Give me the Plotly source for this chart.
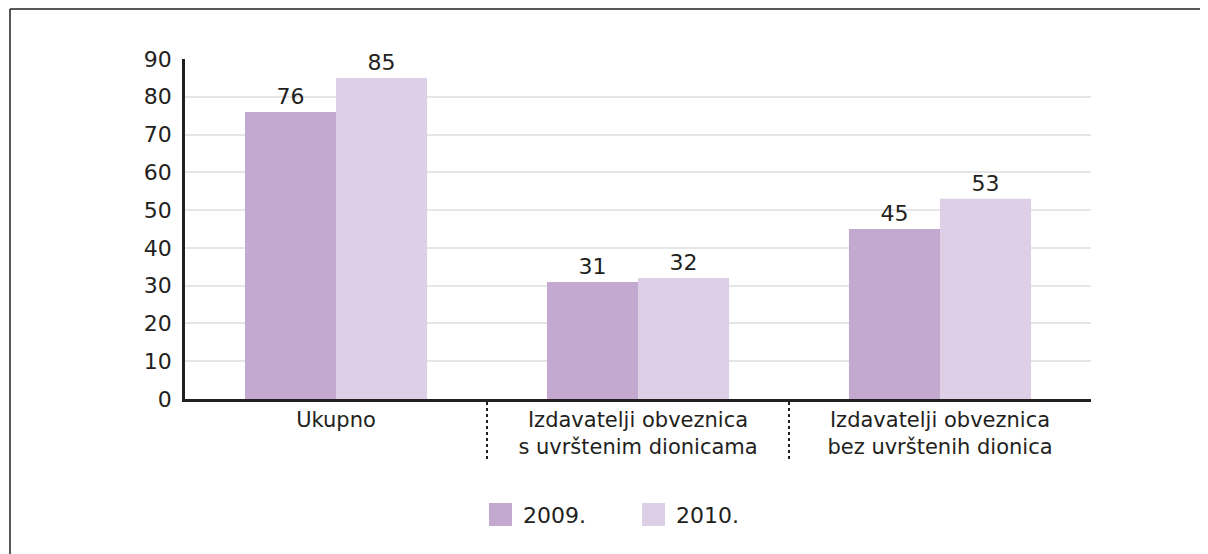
import plotly.graph_objects as go

categories = ["Ukupno", "Izdavatelji obveznica<br>s uvrštenim dionicama", "Izdavatelji obveznica<br>bez uvrštenih dionica"]
series_names = ["2009.", "2010."]
values_2009 = [76, 31, 45]
values_2010 = [85, 32, 53]
y_ticks = [0, 10, 20, 30, 40, 50, 60, 70, 80, 90]
colors = ["#c3a8d0", "#dccfe6"]

FONT = "DejaVu Sans"
TXT = "#231f20"
OFF = 8  # page body margin
W, H = 1200, 546
L, R, T, B = 185 - OFF, 117, 59 - OFF, 155
pw, ph = W - L - R, H - T - B

def px(xp):
    return (xp - OFF - L) / pw

def py(yp):
    return (H - B - (yp - OFF)) / ph

fig = go.Figure()
for name, vals, col in [(series_names[0], values_2009, colors[0]), (series_names[1], values_2010, colors[1])]:
    fig.add_trace(go.Bar(
        x=list(range(len(categories))), y=vals, name=name, marker=dict(color=col, line=dict(width=0)),
        text=[str(v) for v in vals], textposition="outside", cliponaxis=False,
        textfont=dict(family=FONT, size=22, color=TXT), showlegend=False,
    ))

shapes = []
annotations = []
# separators between categories
for i in range(len(categories) - 1):
    shapes.append(dict(type="line", xref="x", yref="paper", x0=i + 0.5, x1=i + 0.5,
                       y0=py(402), y1=py(462), line=dict(color=TXT, width=2, dash="dot")))
# frame (top and left)
shapes.append(dict(type="line", xref="paper", yref="paper", x0=px(10), x1=px(1215), y0=py(9), y1=py(9),
                   line=dict(color=TXT, width=1.5)))
shapes.append(dict(type="line", xref="paper", yref="paper", x0=px(10), x1=px(10), y0=py(9), y1=py(560),
                   line=dict(color=TXT, width=1.5)))
# manual legend
leg_x = [489, 642]
for name, col, lx in zip(series_names, colors, leg_x):
    shapes.append(dict(type="rect", xref="paper", yref="paper", x0=px(lx), x1=px(lx + 23),
                       y0=py(526), y1=py(503), fillcolor=col, line=dict(width=0)))
    annotations.append(dict(xref="paper", yref="paper", x=px(lx + 32), y=py(515), text=name,
                            showarrow=False, xanchor="left", yanchor="middle",
                            font=dict(family=FONT, size=22, color=TXT)))

fig.update_layout(
    width=W, height=H, margin=dict(l=L, r=R, t=T, b=B),
    paper_bgcolor="white", plot_bgcolor="white",
    barmode="group", bargap=0.397, bargroupgap=0,
    font=dict(family=FONT, size=22, color=TXT),
    xaxis=dict(range=[-0.5, 2.5], tickvals=list(range(len(categories))), ticktext=categories,
               showline=True, linecolor=TXT, linewidth=2.5, ticks="", showgrid=False,
               tickfont=dict(family=FONT, size=21, color=TXT), fixedrange=True),
    yaxis=dict(range=[0, 90], tickvals=y_ticks, showline=True, linecolor=TXT, linewidth=2.5,
               ticks="", showgrid=True, gridcolor="#e6e6e6", gridwidth=2, zeroline=False,
               tickfont=dict(family=FONT, size=22, color=TXT), ticklabelstandoff=6),
    shapes=shapes,
    annotations=annotations,
    showlegend=False,
)
fig.write_html("out.html")
